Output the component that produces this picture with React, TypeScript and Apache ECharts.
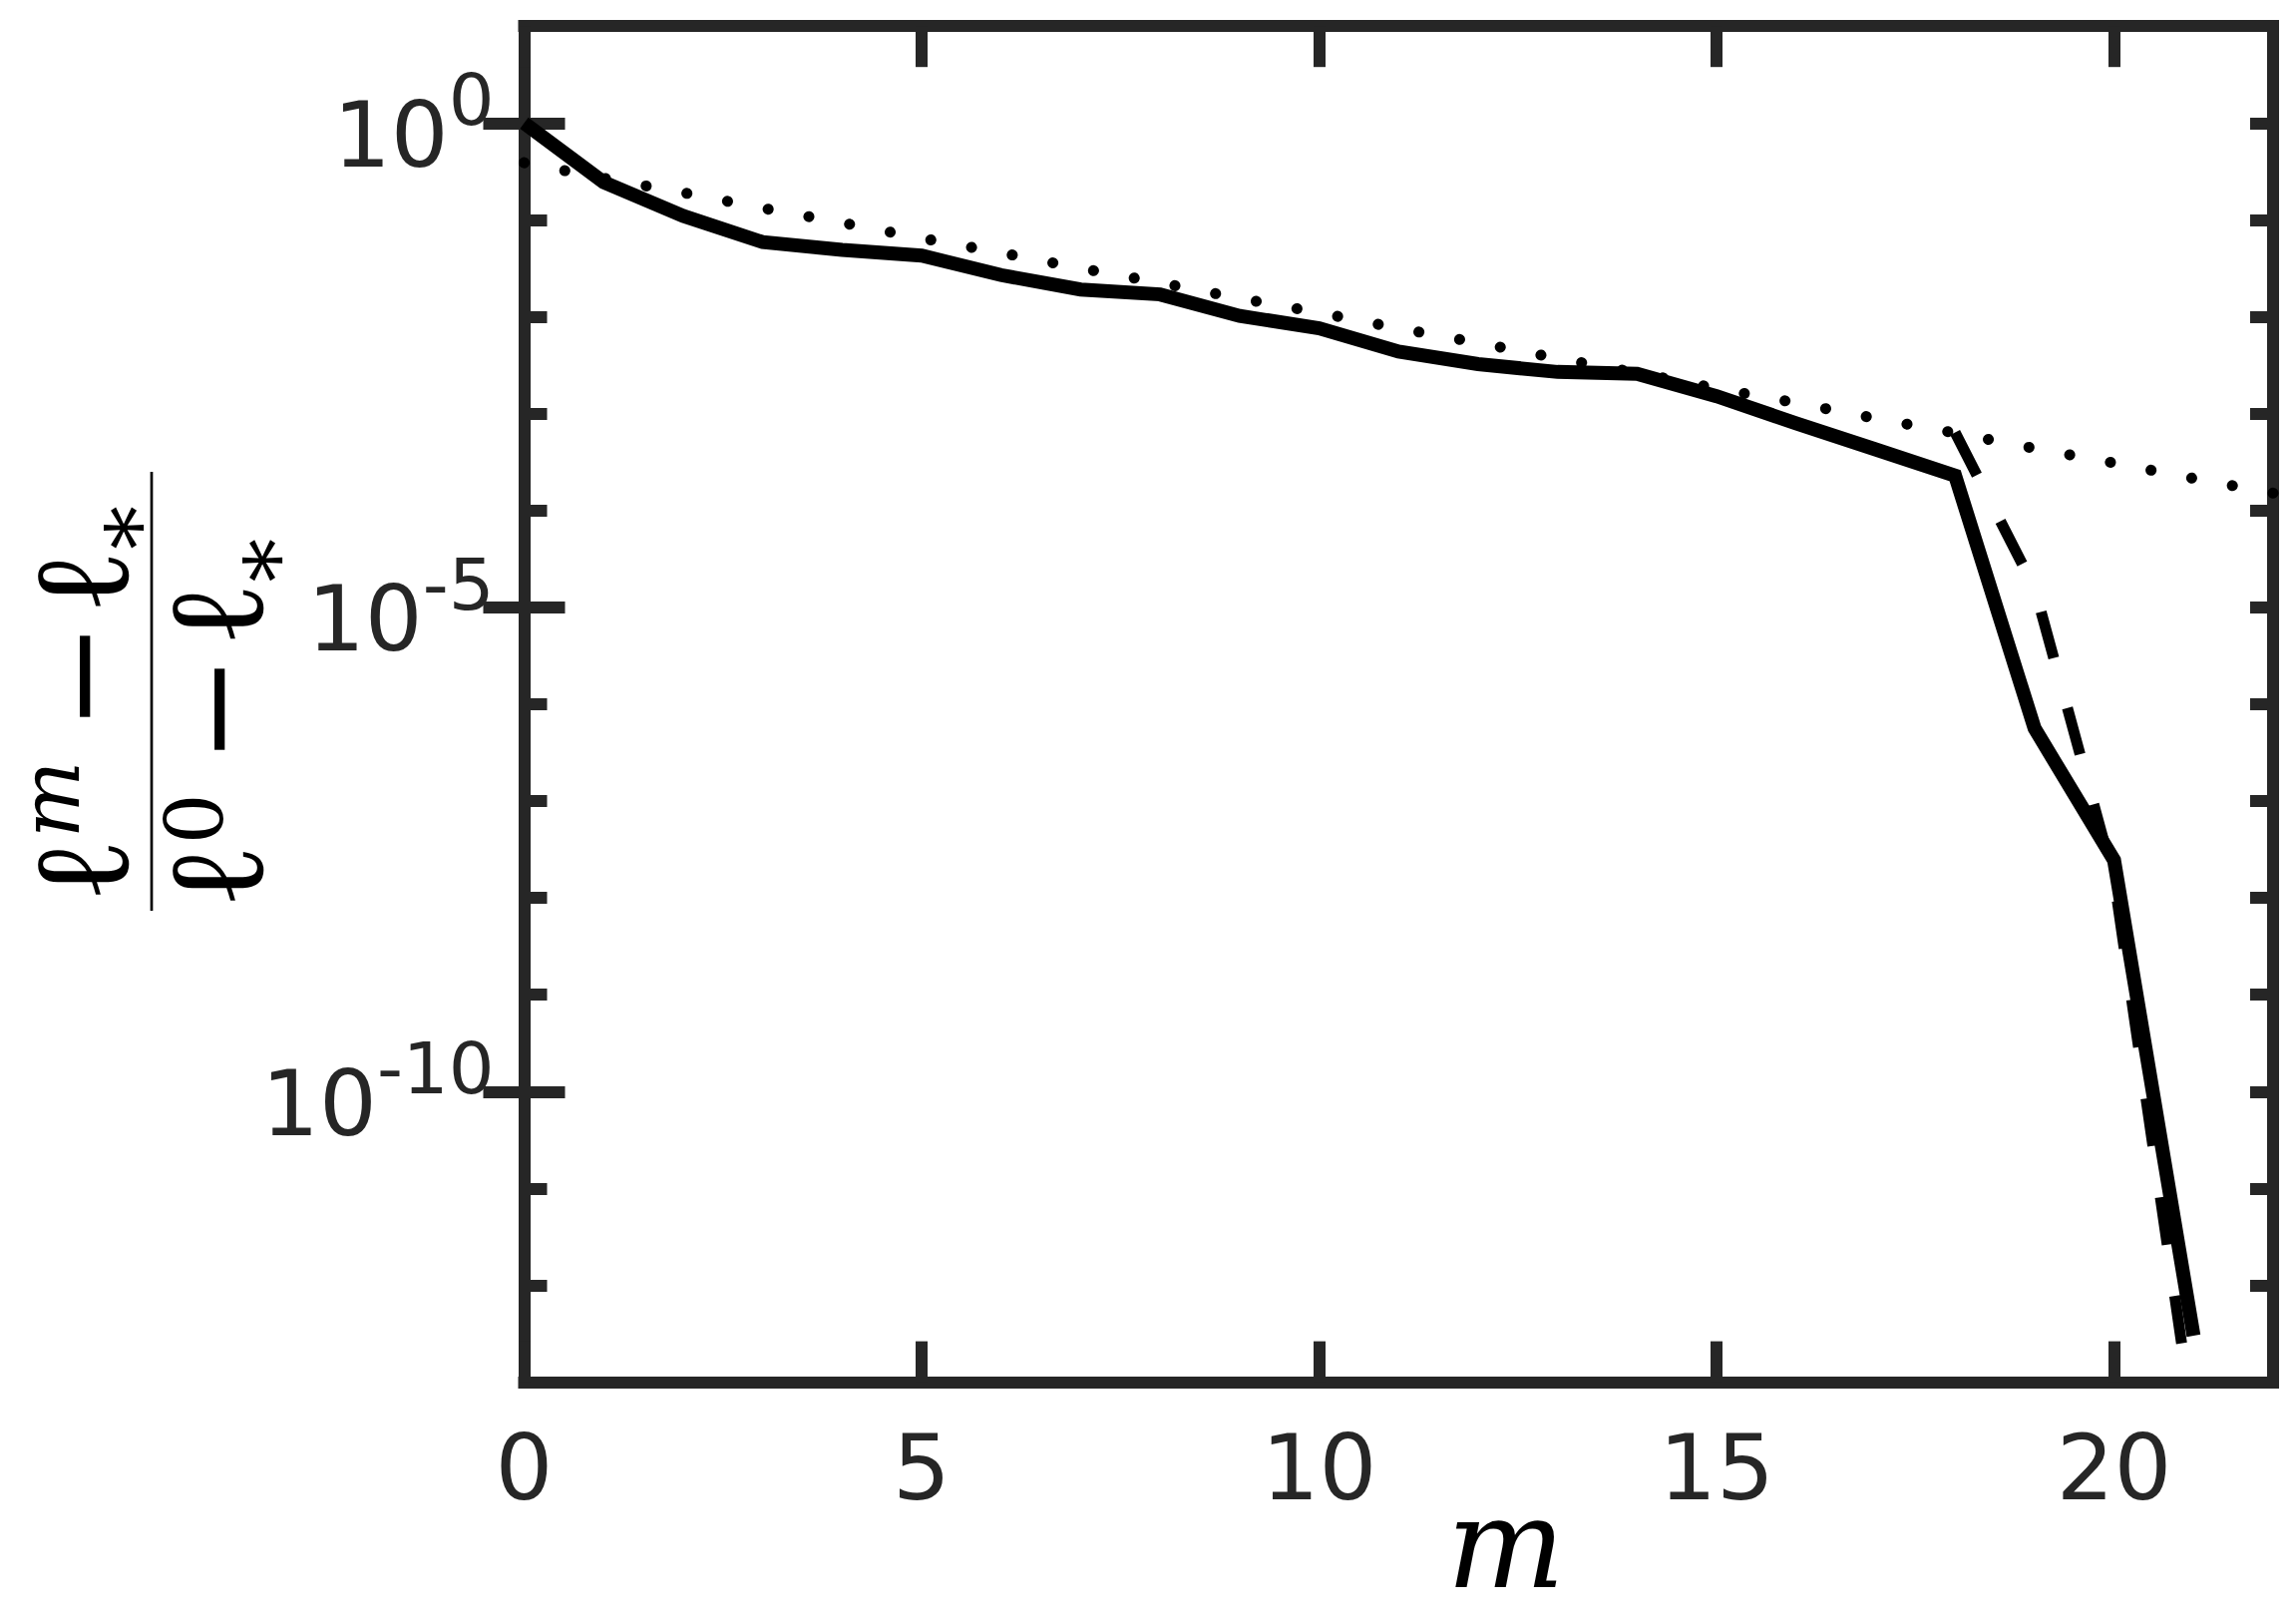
import React, { useEffect, useRef } from 'react';
import * as echarts from 'echarts';

// iteration index m
const mSolid = [0, 1, 2, 3, 4, 5, 6, 7, 8, 9, 10, 11, 12, 13, 14, 15, 16, 17, 18, 19, 20, 21];
const solidValues = [
  1, 0.245, 0.11, 0.0589, 0.049, 0.0427, 0.0269, 0.0191, 0.017, 0.0102, 0.00759,
  0.00437, 0.00324, 0.00269, 0.00257, 0.00151, 7.94e-4, 4.27e-4, 2.29e-4, 5.62e-7,
  2.45e-8, 3.02e-13,
];
const mDotted = [0, 1, 2, 3, 4, 5, 6, 7, 8, 9, 10, 11, 12, 13, 14, 15, 16, 17, 18, 19, 20, 21, 22];
const dottedValues = [
  0.389, 0.269, 0.191, 0.132, 0.0933, 0.0646, 0.0457, 0.0316, 0.0224, 0.0155, 0.011,
  0.00759, 0.00537, 0.00372, 0.00263, 0.00182, 0.00129, 8.91e-4, 6.31e-4, 4.37e-4,
  3.09e-4, 2.14e-4, 1.51e-4,
];
const mDashed = [18, 19, 20, 21];
const dashedValues = [6.4e-4, 1.58e-5, 1.58e-8, 3.55e-14];

const xTicks = [0, 5, 10, 15, 20];
const yMinorTicks = [1e1, 1e0, 1e-1, 1e-2, 1e-3, 1e-4, 1e-5, 1e-6, 1e-7, 1e-8, 1e-9, 1e-10, 1e-11, 1e-12, 1e-13];
const yMajorTicks = [1e0, 1e-5, 1e-10];

const AX = '#262626';

export default function App() {
  const ref = useRef<HTMLDivElement>(null);
  useEffect(() => {
    if (!ref.current) return;
    const chart = echarts.init(ref.current, null, { renderer: 'svg' });
    const axisLine = { show: true, onZero: false, lineStyle: { color: AX, width: 12, cap: 'square' } };
    const xCommon = {
      type: 'value', min: 0, max: 22, interval: 5,
      axisLine,
      axisTick: { show: true, inside: true, length: 41, customValues: xTicks, lineStyle: { color: AX, width: 12 } },
      splitLine: { show: false },
    };
    const yCommon = { type: 'log', logBase: 10, min: 1e-13, max: 10, splitLine: { show: false } };
    const minorTick = { show: true, inside: true, length: 23, customValues: yMinorTicks, lineStyle: { color: AX, width: 12 } };
    const majorTick = { show: true, inside: true, length: 41, customValues: yMajorTicks, lineStyle: { color: AX, width: 12 } };
    const richL = { fontSize: 135, fontFamily: 'DejaVu Serif', fill: '#000', lineHeight: 130 };
    const richOp = { fontSize: 130, fontFamily: 'DejaVu Serif', fill: '#000', lineHeight: 130, padding: [0, 8, 0, 30] };
    const option: any = {
      animation: false,
      backgroundColor: '#fff',
      grid: { left: 525.5, right: 23, top: 26.2, bottom: 238.4, containLabel: false, outerBoundsMode: 'none' },
      xAxis: [
        {
          ...xCommon, position: 'bottom',
          axisLabel: { show: true, margin: 40, customValues: xTicks, color: AX, fontSize: 91, fontFamily: 'DejaVu Sans' },
          name: 'm', nameLocation: 'middle', nameGap: 99, nameMoveOverlap: false,
          nameTextStyle: { fontFamily: 'DejaVu Serif', fontStyle: 'italic', fontSize: 125, color: '#000', lineHeight: 125, padding: [0, 0, 0, 215] },
        },
        { ...xCommon, position: 'top', axisLabel: { show: false } },
      ],
      yAxis: [
        {
          ...yCommon, position: 'left', axisLine, axisTick: minorTick,
          axisLabel: {
            show: true, margin: 30, customValues: yMajorTicks, padding: [24, 0, 0, 0],
            formatter: (v: number) => `{b|10}{s|${Math.round(Math.log10(v))}}`,
            rich: {
              b: { fontSize: 91, fontFamily: 'DejaVu Sans', color: AX, lineHeight: 110 },
              s: { fontSize: 72, fontFamily: 'DejaVu Sans', color: AX, height: 40, lineHeight: 40, verticalAlign: 'top' },
            },
          },
        },
        { ...yCommon, position: 'left', axisLine: { show: false }, axisTick: majorTick, axisLabel: { show: false } },
        { ...yCommon, position: 'right', axisLine, axisTick: minorTick, axisLabel: { show: false } },
        { ...yCommon, position: 'right', axisLine: { show: false }, axisTick: majorTick, axisLabel: { show: false } },
      ],
      series: [
        {
          type: 'line', xAxisIndex: 0, yAxisIndex: 0, symbol: 'none', z: 4,
          data: mDotted.map((m, i) => [m, dottedValues[i]]),
          lineStyle: { color: '#000', width: 11, type: [0.1, 41.4], cap: 'round' },
        },
        {
          type: 'line', xAxisIndex: 0, yAxisIndex: 0, symbol: 'none', z: 5,
          data: mDashed.map((m, i) => [m, dashedValues[i]]),
          lineStyle: { color: '#000', width: 11, type: [48, 52], cap: 'butt', join: 'miter' },
        },
        {
          type: 'line', xAxisIndex: 0, yAxisIndex: 0, symbol: 'none', z: 6,
          data: mSolid.map((m, i) => [m, solidValues[i]]),
          lineStyle: { color: '#000', width: 14, join: 'miter' },
        },
      ],
      graphic: [
        {
          type: 'group', x: 152, y: 693, rotation: Math.PI / 2,
          children: [
            { type: 'line', shape: { x1: -220, y1: 0, x2: 220, y2: 0 }, style: { stroke: '#000', lineWidth: 2.7 } },
            {
              type: 'text', x: -212, y: -71,
              style: {
                text: '{l|ℓ}{sm|m}{op|−}{l|ℓ}{sb|*}', align: 'left', verticalAlign: 'middle',
                rich: {
                  l: richL,
                  sm: { fontSize: 82, fontFamily: 'DejaVu Serif', fontStyle: 'italic', fill: '#000', height: 68, lineHeight: 10, verticalAlign: 'top' },
                  op: richOp,
                  sb: { fontSize: 88, fontFamily: 'DejaVu Serif', fill: '#000', height: 14, lineHeight: 14, verticalAlign: 'bottom' },
                },
              },
            },
            {
              type: 'text', x: -218, y: 64,
              style: {
                text: '{l|ℓ}{s0|0}{op|−}{l|ℓ}{sb|*}', align: 'left', verticalAlign: 'middle',
                rich: {
                  l: richL,
                  s0: { fontSize: 80, fontFamily: 'DejaVu Serif', fill: '#000', height: 88, lineHeight: 10, verticalAlign: 'top' },
                  op: richOp,
                  sb: { fontSize: 88, fontFamily: 'DejaVu Serif', fill: '#000', height: 5, lineHeight: 5, verticalAlign: 'bottom' },
                },
              },
            },
          ],
        },
      ],
    };
    chart.setOption(option);
    return () => chart.dispose();
  }, []);
  return (
    <div
      ref={ref}
      style={{ position: 'fixed', left: 0, top: 0, width: 2302, height: 1624, background: '#fff' }}
    />
  );
}
